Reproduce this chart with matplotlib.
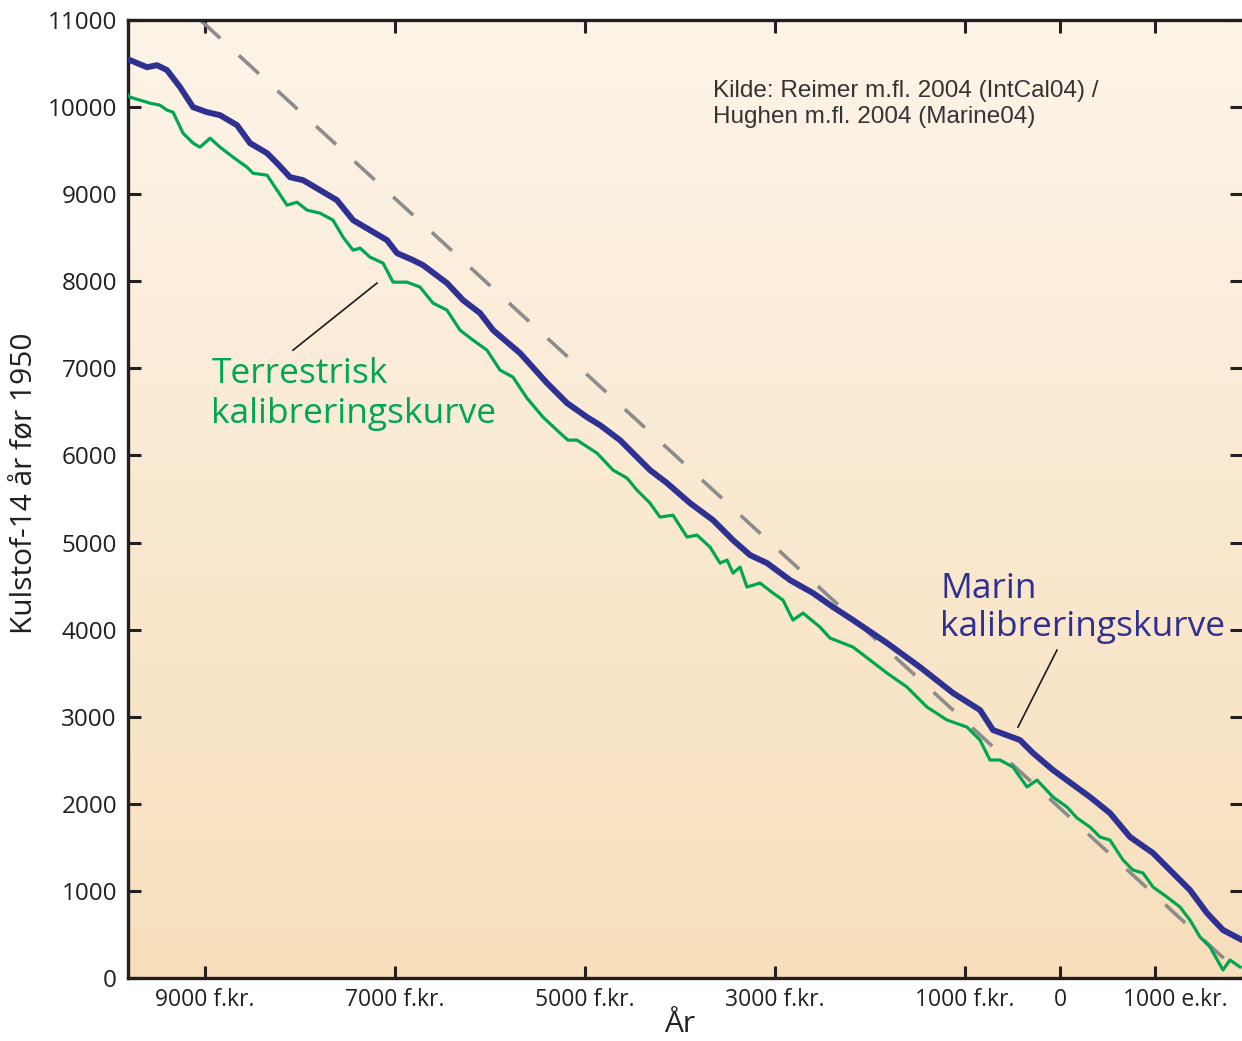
import numpy as np
import matplotlib
matplotlib.use("Agg")
import matplotlib.pyplot as plt
from matplotlib.colors import LinearSegmentedColormap
from matplotlib.transforms import ScaledTranslation

# ---- data (calendar year, negative = f.kr.; radiocarbon age BP) ----
marine_year = [-9811, -9789, -9611, -9505, -9400, -9263, -9126, -8979, -8842, -8663,
               -8526, -8347, -8242, -8105, -7968, -7789, -7611, -7442, -7263, -7084,
               -6979, -6811, -6705, -6453, -6284, -6105, -5968, -5684, -5400, -5189,
               -4979, -4842, -4632, -4316, -4137, -3895, -3653, -3442, -3263, -3084,
               -2842, -2600, -2389, -2179, -1821, -1474, -1126, -842, -705, -421,
               -284, -74, 316, 526, 737, 979, 1189, 1368, 1547, 1716, 1916]
marine_c14 = [10539, 10539, 10458, 10481, 10424, 10229, 9999, 9942, 9907, 9792,
              9586, 9471, 9356, 9195, 9161, 9046, 8931, 8702, 8587, 8472,
              8323, 8243, 8185, 7979, 7783, 7634, 7439, 7175, 6831, 6601,
              6440, 6348, 6176, 5832, 5683, 5453, 5258, 5028, 4856, 4764,
              4569, 4420, 4259, 4110, 3846, 3570, 3272, 3077, 2847, 2732,
              2583, 2388, 2078, 1894, 1619, 1435, 1205, 1010, 746, 551, 436]

terr_year = [-9811, -9789, -9684, -9579, -9474, -9400, -9337, -9232, -9126, -9053,
             -8947, -8842, -8705, -8558, -8495, -8347, -8242, -8137, -8032, -7926,
             -7789, -7653, -7547, -7442, -7368, -7263, -7126, -7021, -6874, -6737,
             -6600, -6453, -6316, -6179, -6032, -5895, -5758, -5611, -5442, -5263,
             -5179, -5084, -4874, -4705, -4558, -4453, -4316, -4211, -4074, -3926,
             -3821, -3684, -3579, -3505, -3442, -3368, -3295, -3158, -3021, -2916,
             -2811, -2705, -2526, -2421, -2179, -2000, -1821, -1611, -1400, -1189,
             -979, -842, -737, -632, -495, -347, -242, -74, 74, 179,
             316, 421, 526, 663, 768, 874, 979, 1126, 1263, 1368,
             1474, 1579, 1716, 1789, 1895]
terr_c14 = [10137, 10114, 10079, 10045, 10022, 9965, 9942, 9701, 9586, 9540,
            9643, 9540, 9425, 9310, 9241, 9218, 9046, 8874, 8908, 8817,
            8782, 8702, 8507, 8357, 8380, 8277, 8208, 7990, 7990, 7933,
            7749, 7669, 7439, 7324, 7209, 6980, 6899, 6658, 6440, 6257,
            6176, 6176, 6027, 5832, 5740, 5602, 5453, 5292, 5315, 5063,
            5086, 4948, 4764, 4799, 4649, 4718, 4489, 4535, 4420, 4339,
            4110, 4190, 4029, 3903, 3800, 3651, 3501, 3341, 3111, 2962,
            2881, 2732, 2503, 2503, 2422, 2193, 2273, 2078, 1963, 1837,
            1733, 1619, 1584, 1355, 1240, 1205, 1045, 930, 815, 666,
            471, 356, 92, 207, 126]

ref_year = [-9050, 1950]          # 1:1 reference line (age BP = 1950 - year)
ref_c14 = [11000, 0]

xtick_vals = [-9000, -7000, -5000, -3000, -1000, 0, 1000]
xtick_labels = ["9000 f.kr.", "7000 f.kr.", "5000 f.kr.", "3000 f.kr.",
                "1000 f.kr.", "0", "1000 e.kr."]
ytick_vals = list(range(0, 12000, 1000))

# ---- figure ----
W, H = 1242, 1041
fig = plt.figure(figsize=(W / 100, H / 100), dpi=100)
fig.patch.set_facecolor("white")
ax = fig.add_axes([128 / W, 1 - 978 / H, (W - 128) / W, (978 - 20) / H])
ax.set_xlim(-9811, 1916)
ax.set_ylim(0, 11000)

# gradient background
cmap = LinearSegmentedColormap.from_list("bg", ["#f7dfbb", "#fdf4e8"])
grad = np.linspace(0, 1, 256).reshape(-1, 1)
ax.imshow(grad, cmap=cmap, aspect="auto", origin="lower",
          extent=[0, 1, 0, 1], transform=ax.transAxes, zorder=0)

GREEN = "#00a651"
BLUE = "#2e3192"
GRAY = "#8c8c8c"
DARK = "#231f20"

ax.plot(ref_year, ref_c14, color=GRAY, lw=2.6, dashes=(7.5, 7), zorder=2)
ax.plot(terr_year, terr_c14, color=GREEN, lw=2.3, zorder=3, solid_joinstyle="round")
ax.plot(marine_year, marine_c14, color=BLUE, lw=4.3, zorder=4, solid_joinstyle="round",
        solid_capstyle="round")

# spines & ticks
for s in ["left", "bottom", "top"]:
    ax.spines[s].set_linewidth(2.4)
    ax.spines[s].set_color(DARK)
ax.spines["right"].set_visible(False)

ax.set_xticks(xtick_vals)
ax.set_xticklabels(xtick_labels)
ax.set_yticks(ytick_vals)
ax.set_yticklabels([str(v) for v in ytick_vals])
ax.tick_params(direction="in", length=9, width=2.2, color=DARK,
               top=True, right=True, labelcolor=DARK)
ax.tick_params(axis="x", pad=7, labelsize=16.5)
ax.tick_params(axis="y", pad=8, labelsize=17.5)
for lab in ax.get_xticklabels() + ax.get_yticklabels():
    lab.set_family("Open Sans")
# the "1000 e.kr." label sits a little right of its tick in the original
last = ax.get_xticklabels()[-1]
last.set_transform(last.get_transform() + ScaledTranslation(0.2, 0, fig.dpi_scale_trans))

fig.text(25 / W, 1 - 483 / H, "Kulstof-14 år før 1950", rotation=90,
         ha="center", va="center", fontsize=21.5, color=DARK, family="Open Sans")
fig.text(680 / W, 1 - 1025 / H, "År", ha="center", va="center",
         fontsize=21.5, color=DARK, family="Open Sans")

# source note
ax.text(-3653, 10114, "Kilde: Reimer m.fl. 2004 (IntCal04) /", fontsize=17.5,
        color="#333333", family="Liberation Sans", va="baseline", ha="left")
ax.text(-3653, 9815, "Hughen m.fl. 2004 (Marine04)", fontsize=17.5,
        color="#333333", family="Liberation Sans", va="baseline", ha="left")

# curve labels
ax.text(-8933, 6830, "Terrestrisk", fontsize=25.5, color=GREEN,
        family="Open Sans", va="baseline", ha="left")
ax.text(-8933, 6370, "kalibreringskurve", fontsize=25.5, color=GREEN,
        family="Open Sans", va="baseline", ha="left")
ax.plot([-8074, -7190], [7209, 7979], color="#1a1a1a", lw=1.2, zorder=5)

ax.text(-1263, 4360, "Marin", fontsize=25.5, color=BLUE,
        family="Open Sans", va="baseline", ha="left")
ax.text(-1263, 3925, "kalibreringskurve", fontsize=25.5, color=BLUE,
        family="Open Sans", va="baseline", ha="left")
ax.plot([-442, -32], [2881, 3765], color="#1a1a1a", lw=1.2, zorder=5)

fig.savefig("out.png", dpi=100)
